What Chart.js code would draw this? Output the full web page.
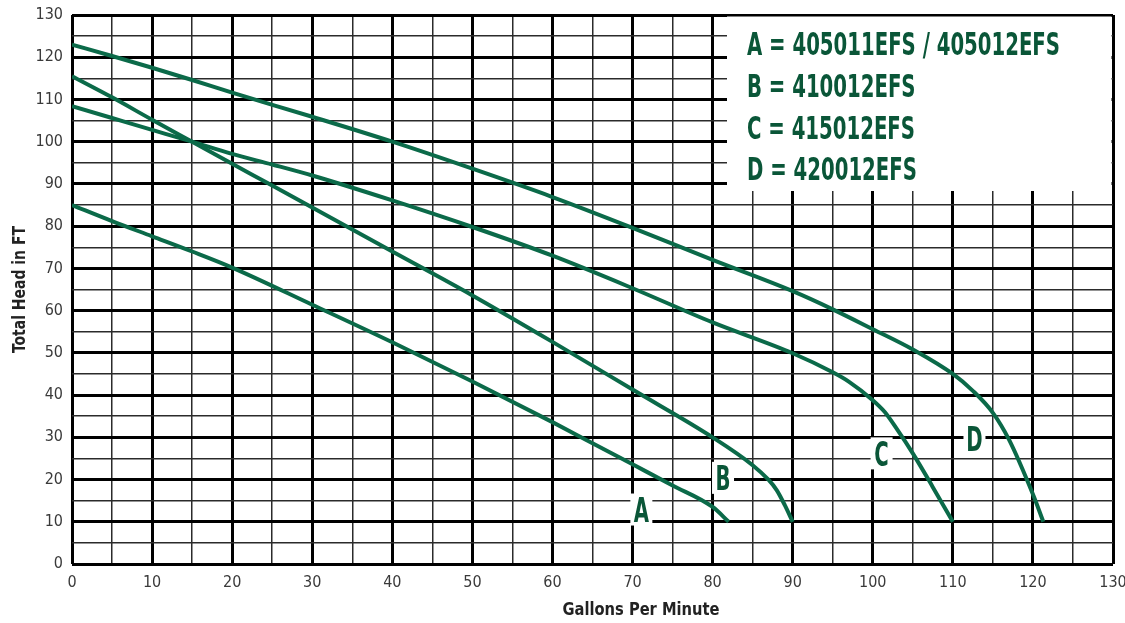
<!DOCTYPE html>
<html>
<head>
<meta charset="utf-8">
<script src="https://cdn.jsdelivr.net/npm/chart.js@4/dist/chart.umd.min.js"></script>
<style>
  html, body { margin: 0; padding: 0; background: #fff; }
  #wrap { width: 1125px; height: 623px; }
</style>
</head>
<body>
<div id="wrap"><canvas id="pumpChart" width="1125" height="623"></canvas></div>
<script>
  // pump curves (gpm -> ft of head)
  const flowA = [0, 5, 10, 15, 20, 30, 40, 50, 60, 65, 70, 75, 80, 82];
  const headA = [85, 81.2, 77.6, 74, 70.2, 61.4, 52.5, 43.2, 33.6, 28.6, 23.6, 18.6, 13.5, 10];

  const flowB = [0, 5, 10, 15, 20, 25, 30, 40, 50, 60, 70, 80, 85, 87, 88, 89, 90];
  const headB = [115.5, 110.5, 105.2, 100, 94.8, 89.6, 84.4, 74, 63.6, 52.6, 41.3, 30, 23.4, 19.9, 17.5, 14, 10];

  const flowC = [0, 5, 10, 15, 20, 25, 30, 40, 50, 60, 70, 80, 90, 95, 97, 100, 101.5, 103, 105, 107.5, 110];
  const headC = [108.4, 105.6, 102.8, 100, 97.1, 94.6, 92, 86.1, 79.8, 73, 65.3, 57.2, 49.9, 45.4, 43.2, 38.8, 36, 32, 26.2, 18.2, 10];

  const flowD = [0, 5, 10, 15, 20, 30, 40, 50, 60, 70, 80, 90, 95, 100, 105, 110, 112.5, 115, 117, 120, 121.3];
  const headD = [123, 120.3, 117.5, 114.6, 111.6, 105.9, 100, 93.6, 86.9, 79.6, 72, 64.6, 60.3, 55.6, 50.8, 45, 41, 35.8, 29.5, 16.5, 10];

  const curveTags = ['A', 'B', 'C', 'D'];
  const tagFlow = [71.1, 81.3, 101.1, 112.7];
  const tagHead = [12.9, 20.4, 26.2, 29.7];

  const legendLines = [
    'A = 405011EFS / 405012EFS',
    'B = 410012EFS',
    'C = 415012EFS',
    'D = 420012EFS'
  ];

  const xTitle = 'Gallons Per Minute';
  const yTitle = 'Total Head in FT';
  const axisMin = 0, axisMax = 130, minorStep = 5, majorStep = 10;

  const GREEN = '#0b6a49';
  const TEXT_GREEN = '#0a5638';
  const NARROW = '"Liberation Sans Narrow", "DejaVu Sans Condensed", "Roboto", sans-serif';

  function toXY(xs, ys) { return xs.map((x, i) => ({ x: x, y: ys[i] })); }

  function curve(label, xs, ys) {
    return {
      label: label,
      data: toXY(xs, ys),
      showLine: true,
      borderColor: GREEN,
      borderWidth: 4,
      pointRadius: 0,
      cubicInterpolationMode: 'monotone',
      fill: false
    };
  }

  // text squeezed horizontally by sx (or to a width if w is given)
  function squeezed(g, text, x, y, font, color, sx, align, w) {
    g.save();
    g.font = font;
    g.fillStyle = color;
    g.textBaseline = 'alphabetic';
    const raw = g.measureText(text).width;
    if (w) sx = w / raw;
    const width = raw * sx;
    const left = align === 'center' ? x - width / 2 : x;
    g.translate(left, y);
    g.scale(sx, 1);
    g.textAlign = 'left';
    g.fillText(text, 0, 0);
    g.restore();
  }

  const overlay = {
    id: 'overlay',
    afterDatasetsDraw(chart) {
      const g = chart.ctx;
      const area = chart.chartArea;
      const xs = chart.scales.x, ys = chart.scales.y;

      // legend panel
      g.save();
      g.fillStyle = '#fff';
      g.fillRect(727, area.top + 1.5, area.right - 1.5 - 727, 191 - area.top - 1.5);
      g.restore();

      const legFont = 'bold 32px ' + NARROW;
      g.font = legFont;
      const sx = 313 / g.measureText(legendLines[0]).width;
      const baselines = [55, 97, 138.5, 180];
      legendLines.forEach((t, i) => squeezed(g, t, 747, baselines[i], legFont, TEXT_GREEN, sx, 'left'));

      // curve tags
      const tagFont = 'bold 34px ' + NARROW;
      g.font = tagFont;
      const tsx = 15 / g.measureText('B').width;
      curveTags.forEach((t, i) => {
        const cx = xs.getPixelForValue(tagFlow[i]);
        const cy = ys.getPixelForValue(tagHead[i]);
        g.save();
        g.fillStyle = '#fff';
        g.fillRect(cx - 11, cy - 16, 22, 32);
        g.restore();
        squeezed(g, t, cx, cy + 12.5, tagFont, TEXT_GREEN, tsx, 'center');
      });

      // axis titles
      const titleFont = 'bold 17px ' + NARROW;
      squeezed(g, xTitle, 641, 615, titleFont, '#222', 1, 'center', 157);
      g.save();
      g.translate(25, (area.top + area.bottom) / 2);
      g.rotate(-Math.PI / 2);
      squeezed(g, yTitle, 0, 0, titleFont, '#222', 1, 'center', 127);
      g.restore();
    }
  };

  const gridColor = c => (c.tick && c.tick.value % majorStep === 0) ? '#000' : '#2b2b2b';
  const gridWidth = c => (c.tick && c.tick.value % majorStep === 0) ? 3 : 1.5;
  const tickLabel = v => (v % majorStep === 0 ? String(v) : '');

  new Chart(document.getElementById('pumpChart'), {
    type: 'scatter',
    data: {
      datasets: [
        curve('A', flowA, headA),
        curve('B', flowB, headB),
        curve('C', flowC, headC),
        curve('D', flowD, headD)
      ]
    },
    options: {
      responsive: false,
      animation: false,
      devicePixelRatio: 1,
      layout: { padding: { top: 15, right: 12, left: 0, bottom: 0 } },
      plugins: { legend: { display: false }, tooltip: { enabled: false } },
      scales: {
        x: {
          type: 'linear', min: axisMin, max: axisMax,
          border: { display: false },
          grid: { drawTicks: false, color: gridColor, lineWidth: gridWidth },
          ticks: { stepSize: minorStep, autoSkip: false, maxRotation: 0, padding: 9,
                   color: '#3a3a3a', font: { family: NARROW, size: 16 }, callback: tickLabel },
          afterFit: s => { s.height = 59; s.paddingLeft = 0; s.paddingRight = 0; }
        },
        y: {
          type: 'linear', min: axisMin, max: axisMax,
          border: { display: false },
          grid: { drawTicks: false, color: gridColor, lineWidth: gridWidth },
          ticks: { stepSize: minorStep, autoSkip: false, padding: 9,
                   color: '#3a3a3a', font: { family: NARROW, size: 16 }, callback: tickLabel },
          afterFit: s => { s.width = 72; s.paddingTop = 0; s.paddingBottom = 0; }
        }
      }
    },
    plugins: [overlay]
  });
</script>
</body>
</html>
